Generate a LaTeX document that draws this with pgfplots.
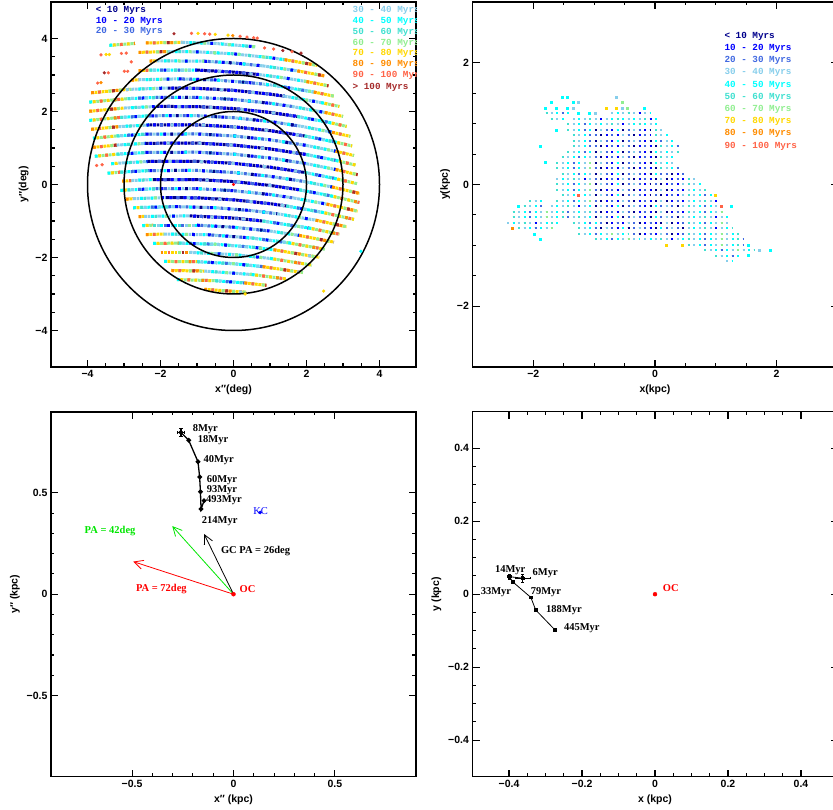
\documentclass[border=0pt]{standalone}
\usepackage{pgfplots}
\pgfplotsset{compat=1.18}
\usepackage{fontspec}
\setmainfont{Liberation Serif}
\newfontfamily\lsans{Liberation Sans}
\newfontfamily\lmono{Liberation Mono}
\usetikzlibrary{arrows.meta}

\definecolor{cNavy}{HTML}{00008B}
\definecolor{cBlue}{HTML}{0000FF}
\definecolor{cRoyal}{HTML}{4169E1}
\definecolor{cSky}{HTML}{87CEEB}
\definecolor{cCyan}{HTML}{00FFFF}
\definecolor{cTurq}{HTML}{40E0D0}
\definecolor{cGreen}{HTML}{90EE90}
\definecolor{cGold}{HTML}{FFD700}
\definecolor{cOrange}{HTML}{FF8C00}
\definecolor{cTomato}{HTML}{FF6347}
\definecolor{cBrown}{HTML}{A52A2A}
\definecolor{cArrG}{HTML}{00E600}

\newcommand{\lgd}{\lmono\bfseries\fontsize{9.3}{10}\selectfont}
\newcommand{\ann}{\fontsize{10.5}{12}\selectfont}

% rows of dots: a dashed path, other colours put on every n-th dot
\tikzset{
  d1/.style={line width=3pt, dash pattern=on 2.8pt off 0.7pt},
  o1/.style n args={3}{postaction={draw=#1, line width=3pt, dash pattern=on 2.8pt off #2, dash phase=#3}},
  CA/.style={color=cNavy, d1, o1={cBlue}{4.2pt}{3.5pt}, o1={cRoyal}{14.7pt}{7pt}, o1={cSky}{28.7pt}{10.5pt}},
  CB/.style={color=cSky, d1, o1={cRoyal}{4.2pt}{3.5pt}, o1={cBlue}{14.7pt}{0pt}, o1={cCyan}{21.7pt}{10.5pt}, o1={cNavy}{35.7pt}{14pt}},
  MA/.style={color=cSky, d1, o1={cCyan}{7.7pt}{3.5pt}, o1={cTurq}{14.7pt}{7pt}, o1={cGreen}{21.7pt}{3.5pt}, o1={cBlue}{35.7pt}{10.5pt}},
  MB/.style={color=cCyan, d1, o1={cSky}{4.2pt}{3.5pt}, o1={cRoyal}{14.7pt}{7pt}, o1={cTurq}{21.7pt}{0pt}, o1={cBlue}{28.7pt}{17.5pt}, o1={cGreen}{42.7pt}{10.5pt}},
  WA/.style={color=cGold, d1, o1={cGreen}{7.7pt}{3.5pt}, o1={cTomato}{11.2pt}{7pt}, o1={cOrange}{21.7pt}{0pt}, o1={cBrown}{35.7pt}{17.5pt}, o1={cSky}{42.7pt}{10.5pt}},
  WB/.style={color=cGreen, d1, o1={cGold}{4.2pt}{3.5pt}, o1={cTomato}{14.7pt}{7pt}, o1={cCyan}{21.7pt}{0pt}, o1={cOrange}{35.7pt}{14pt}},
  d2/.style={line width=2pt, dash pattern=on 2pt off 3.475pt},
  o2/.style n args={3}{postaction={draw=#1, line width=2pt, dash pattern=on 2pt off #2, dash phase=#3}},
  Q1/.style={color=cBlue, d2, o2={cNavy}{8.95pt}{5.475pt}, o2={cRoyal}{14.425pt}{0pt}, o2={cSky}{36.325pt}{10.95pt}},
  Q2/.style={color=cRoyal, d2, o2={cBlue}{8.95pt}{5.475pt}, o2={cSky}{14.425pt}{10.95pt}, o2={cNavy}{25.375pt}{0pt}, o2={cCyan}{36.325pt}{16.425pt}},
  Q3/.style={color=cCyan, d2, o2={cSky}{8.95pt}{5.475pt}, o2={cTurq}{14.425pt}{0pt}, o2={cRoyal}{36.325pt}{21.9pt}, o2={cGreen}{58.225pt}{27.375pt}},
  Q4/.style={color=cSky, d2, o2={cCyan}{8.95pt}{5.475pt}, o2={cTurq}{25.375pt}{10.95pt}, o2={cBlue}{47.275pt}{21.9pt}},
  arr/.style={line width=0.8pt, -{Straight Barb[length=9pt,width=9pt]}},
}

\pgfplotsset{
  panel/.style={
    scale only axis, width=365pt, height=365pt, anchor=south west,
    axis line style={line width=1.6pt},
    tick align=inside, major tick length=7pt, minor tick length=3.5pt,
    tick style={line width=1.1pt, black},
    ticklabel style={font=\lsans\bfseries\fontsize{10.5}{12}\selectfont},
    label style={font=\lsans\bfseries\fontsize{10.5}{12}\selectfont},
  },
}

\begin{document}
\begin{tikzpicture}

% ---------------- top left: x'' y'' in deg
\begin{axis}[panel, at={(51pt,442pt)},
  xmin=-5, xmax=5, ymin=-5, ymax=5,
  xtick={-4,-2,0,2,4}, xticklabels={−4,−2,0,2,4},
  ytick={-4,-2,0,2,4}, yticklabels={−4,−2,0,2,4},
  minor x tick num=3, minor y tick num=3,
  xlabel={x″(deg)}, ylabel={y″(deg)}]
\addplot[WB] coordinates {(-3.4,3.813) (-2.7,3.864)};
\addplot[WA] coordinates {(-2.4,3.878) (-1.4,3.893)};
\addplot[MA] coordinates {(-1.4,3.893) (-0.5,3.864) (0.6,3.773)};
\addplot[WA] coordinates {(-2.6,3.619) (-1.8,3.643)};
\addplot[MA] coordinates {(-1.8,3.643) (-1.0,3.635) (0,3.58) (1.0,3.475) (1.4,3.419)};
\addplot[WA] coordinates {(1.4,3.419) (2.3,3.264)};
\addplot[WA] coordinates {(-2.3,3.382) (-2.1,3.388)};
\addplot[MA] coordinates {(-2.1,3.388) (-0.8,3.378)};
\addplot[CB] coordinates {(-0.8,3.378) (0,3.33) (0.8,3.25)};
\addplot[MA] coordinates {(0.8,3.25) (1.75,3.113)};
\addplot[WA] coordinates {(1.75,3.113) (2.5,2.974)};
\addplot[WA] coordinates {(-2.6,3.119) (-2.3,3.132)};
\addplot[MB] coordinates {(-2.3,3.132) (-1.0,3.135)};
\addplot[CA] coordinates {(-1.0,3.135) (0,3.08) (0.7,3.012)};
\addplot[MA] coordinates {(0.7,3.012) (1.4,2.919) (2.0,2.82)};
\addplot[WA] coordinates {(2.0,2.82) (2.6,2.703)};
\addplot[WA] coordinates {(-2.8,2.858) (-2.6,2.869)};
\addplot[MA] coordinates {(-2.6,2.869) (-1.5,2.894)};
\addplot[CB] coordinates {(-1.5,2.894) (-0.5,2.864) (0.5,2.784) (1.1,2.718)};
\addplot[MB] coordinates {(1.1,2.718) (2.2,2.533)};
\addplot[WA] coordinates {(2.2,2.533) (2.75,2.421)};
\addplot[WA] coordinates {(-3.9,2.512) (-3.0,2.595) (-2.8,2.608)};
\addplot[MA] coordinates {(-2.8,2.608) (-1.8,2.643)};
\addplot[CA] coordinates {(-1.8,2.643) (-1.0,2.635) (0,2.58) (1.0,2.475) (1.4,2.419)};
\addplot[MA] coordinates {(1.4,2.419) (2.4,2.244)};
\addplot[WB] coordinates {(2.4,2.244) (2.9,2.138)};
\addplot[WB] coordinates {(-3.95,2.256) (-2.9,2.352)};
\addplot[MB] coordinates {(-2.9,2.352) (-2.0,2.39)};
\addplot[CB] coordinates {(-2.0,2.39) (-1.0,2.385) (0,2.33) (1.0,2.225) (1.6,2.138)};
\addplot[MA] coordinates {(1.6,2.138) (2.5,1.974)};
\addplot[WA] coordinates {(2.5,1.974) (3.0,1.865)};
\addplot[WA] coordinates {(-3.95,2.006) (-3.0,2.095)};
\addplot[MA] coordinates {(-3.0,2.095) (-2.1,2.138)};
\addplot[CA] coordinates {(-2.1,2.138) (-1.0,2.135) (0,2.08) (1.0,1.975) (1.75,1.863)};
\addplot[MB] coordinates {(1.75,1.863) (2.6,1.703)};
\addplot[WB] coordinates {(2.6,1.703) (3.1,1.592)};
\addplot[WB] coordinates {(-3.95,1.756) (-3.1,1.838)};
\addplot[MB] coordinates {(-3.1,1.838) (-2.25,1.883)};
\addplot[CB] coordinates {(-2.25,1.883) (-1.0,1.885) (0,1.83) (1.0,1.725) (1.85,1.596)};
\addplot[MA] coordinates {(1.85,1.596) (2.7,1.432)};
\addplot[WA] coordinates {(2.7,1.432) (3.2,1.318)};
\addplot[WA] coordinates {(-3.9,1.512) (-3.15,1.584)};
\addplot[MA] coordinates {(-3.15,1.584) (-2.3,1.632)};
\addplot[CA] coordinates {(-2.3,1.632) (-1.0,1.635) (0,1.58) (1.0,1.475) (1.95,1.329)};
\addplot[MB] coordinates {(1.95,1.329) (2.75,1.171)};
\addplot[WB] coordinates {(2.75,1.171) (3.25,1.056)};
\addplot[WB] coordinates {(-3.85,1.267) (-3.2,1.33)};
\addplot[MB] coordinates {(-3.2,1.33) (-2.4,1.378)};
\addplot[CB] coordinates {(-2.4,1.378) (-1.0,1.385) (0,1.33) (1.0,1.225) (2.0,1.07)};
\addplot[MA] coordinates {(2.0,1.07) (2.8,0.91)};
\addplot[WA] coordinates {(2.8,0.91) (3.3,0.794)};
\addplot[WA] coordinates {(-3.85,1.017) (-3.2,1.08)};
\addplot[MA] coordinates {(-3.2,1.08) (-2.4,1.128)};
\addplot[CA] coordinates {(-2.4,1.128) (-1.0,1.135) (0,1.08) (1.0,0.975) (2.0,0.82)};
\addplot[MB] coordinates {(2.0,0.82) (2.8,0.66)};
\addplot[WB] coordinates {(2.8,0.66) (3.35,0.531)};
\addplot[WB] coordinates {(-3.8,0.773) (-3.2,0.83)};
\addplot[MB] coordinates {(-3.2,0.83) (-2.4,0.878)};
\addplot[CB] coordinates {(-2.4,0.878) (-1.0,0.885) (0,0.83) (1.0,0.725) (2.0,0.57)};
\addplot[MA] coordinates {(2.0,0.57) (2.8,0.41)};
\addplot[WA] coordinates {(2.8,0.41) (3.4,0.269)};
\addplot[WB] coordinates {(-3.35,0.567) (-3.15,0.584)};
\addplot[MA] coordinates {(-3.15,0.584) (-2.35,0.63)};
\addplot[CA] coordinates {(-2.35,0.63) (-1.0,0.635) (0,0.58) (1.0,0.475) (1.95,0.329)};
\addplot[MB] coordinates {(1.95,0.329) (2.75,0.171)};
\addplot[WB] coordinates {(2.75,0.171) (3.4,0.019)};
\addplot[WB] coordinates {(-3.45,0.308) (-3.1,0.338)};
\addplot[MB] coordinates {(-3.1,0.338) (-2.3,0.382)};
\addplot[CB] coordinates {(-2.3,0.382) (-1.0,0.385) (0,0.33) (1.0,0.225) (1.9,0.088)};
\addplot[MA] coordinates {(1.9,0.088) (2.7,-0.068)};
\addplot[WA] coordinates {(2.7,-0.068) (3.45,-0.244)};
\addplot[WA] coordinates {(-3.05,0.091) (-2.8,0.108)};
\addplot[MA] coordinates {(-2.8,0.108) (-2.2,0.135)};
\addplot[CA] coordinates {(-2.2,0.135) (-1.0,0.135) (0,0.08) (1.0,-0.025) (1.8,-0.145)};
\addplot[MB] coordinates {(1.8,-0.145) (2.65,-0.308)};
\addplot[WB] coordinates {(2.65,-0.308) (3.45,-0.494)};
\addplot[WB] coordinates {(-3.1,-0.162) (-2.9,-0.148)};
\addplot[MB] coordinates {(-2.9,-0.148) (-2.0,-0.11)};
\addplot[CB] coordinates {(-2.0,-0.11) (-1.0,-0.115) (0,-0.17) (1.0,-0.275) (1.65,-0.37)};
\addplot[MA] coordinates {(1.65,-0.37) (2.55,-0.537)};
\addplot[WA] coordinates {(2.55,-0.537) (3.4,-0.731)};
\addplot[WA] coordinates {(-2.95,-0.402) (-2.75,-0.389)};
\addplot[MA] coordinates {(-2.75,-0.389) (-1.85,-0.358)};
\addplot[CA] coordinates {(-1.85,-0.358) (-1.0,-0.365) (0,-0.42) (1.0,-0.525) (1.45,-0.589)};
\addplot[MB] coordinates {(1.45,-0.589) (2.4,-0.756)};
\addplot[WB] coordinates {(2.4,-0.756) (3.3,-0.956)};
\addplot[WB] coordinates {(-2.75,-0.639) (-2.55,-0.629)};
\addplot[MB] coordinates {(-2.55,-0.629) (-1.6,-0.606)};
\addplot[CB] coordinates {(-1.6,-0.606) (-0.5,-0.636) (0.5,-0.716) (1.2,-0.802)};
\addplot[MA] coordinates {(1.2,-0.802) (2.25,-0.977)};
\addplot[WA] coordinates {(2.25,-0.977) (3.1,-1.158)};
\addplot[WA] coordinates {(-2.6,-0.881) (-2.45,-0.874)};
\addplot[MA] coordinates {(-2.45,-0.874) (-1.2,-0.86)};
\addplot[CA] coordinates {(-1.2,-0.86) (0,-0.92) (0.8,-1.0)};
\addplot[MB] coordinates {(0.8,-1.0) (2.05,-1.189)};
\addplot[WB] coordinates {(2.05,-1.189) (2.9,-1.362)};
\addplot[WB] coordinates {(-2.5,-1.126) (-2.2,-1.115)};
\addplot[MB] coordinates {(-2.2,-1.115) (-1.0,-1.115)};
\addplot[CB] coordinates {(-1.0,-1.115) (0,-1.17) (1.0,-1.275)};
\addplot[MA] coordinates {(1.0,-1.275) (1.8,-1.395)};
\addplot[WA] coordinates {(1.8,-1.395) (2.75,-1.579)};
\addplot[WA] coordinates {(-2.4,-1.372) (-1.9,-1.358)};
\addplot[MA] coordinates {(-1.9,-1.358) (-0.7,-1.376)};
\addplot[CB] coordinates {(-0.7,-1.376) (0.5,-1.466)};
\addplot[MB] coordinates {(0.5,-1.466) (1.5,-1.596)};
\addplot[WB] coordinates {(1.5,-1.596) (2.5,-1.776)};
\addplot[WB] coordinates {(-2.2,-1.615) (-1.5,-1.606)};
\addplot[MB] coordinates {(-1.5,-1.606) (-0.5,-1.636) (0.5,-1.716) (1.1,-1.788)};
\addplot[WA] coordinates {(1.1,-1.788) (2.35,-1.996)};
\addplot[WA] coordinates {(-2.0,-1.86) (-1.2,-1.86)};
\addplot[MA] coordinates {(-1.2,-1.86) (0,-1.92) (1.0,-2.025)};
\addplot[WB] coordinates {(1.0,-2.025) (2.15,-2.208)};
\addplot[WB] coordinates {(-1.9,-2.108) (-1.0,-2.115)};
\addplot[MB] coordinates {(-1.0,-2.115) (0,-2.17) (0.8,-2.25)};
\addplot[WA] coordinates {(0.8,-2.25) (1.9,-2.412)};
\addplot[WA] coordinates {(-1.7,-2.356) (-0.8,-2.372)};
\addplot[MA] coordinates {(-0.8,-2.372) (0.5,-2.466)};
\addplot[WB] coordinates {(0.5,-2.466) (1.45,-2.589)};
\addplot[WB] coordinates {(-1.55,-2.606) (-0.5,-2.636)};
\addplot[MB] coordinates {(-0.5,-2.636) (0.3,-2.696)};
\addplot[WA] coordinates {(0.3,-2.696) (0.9,-2.762)};
\addplot[WA] coordinates {(-0.8,-2.872) (0.35,-2.951)};
% scattered single points
\addplot[cTomato, only marks, mark=*, mark size=1.45pt] coordinates {(0.85,3.74) (1.1,3.71) (1.6,3.64) (-1.15,4.14) (-0.79,4.13) (-0.65,4.12) (0.18,4.06) (0.37,4.04) (0.55,4.02) (0.65,4.01) (-3.63,3.55) (-3.07,3.59) (-2.94,3.6) (-2.8,3.36) (-3.43,3.06) (-2.99,3.1) (-2.9,3.1) (-3.72,2.78) (-3.75,0.52) (-3.6,0.54)};
\addplot[cBrown, only marks, mark=*, mark size=1.45pt] coordinates {(1.35,3.67) (1.85,3.6) (-1.63,4.13) (-3.54,3.06)};
\addplot[cGold, only marks, mark=*, mark size=1.45pt] coordinates {(-0.97,4.14) (-0.5,4.11) (-0.15,4.09) (-3.49,3.56) (-3.4,3.56) (2.47,-2.92) (0.32,-3.0)};
\addplot[cOrange, only marks, mark=*, mark size=1.45pt] coordinates {(-0.02,4.08) (-3.63,2.79)};
\addplot[cCyan, only marks, mark=*, mark size=1.45pt] coordinates {(3.49,-1.83)};
\addplot[red, only marks, mark=*, mark size=1.45pt] coordinates {(0,0)};
\draw[line width=1.5pt] (axis cs:0,0) circle[radius=2];
\draw[line width=1.5pt] (axis cs:0,0) circle[radius=3];
\draw[line width=1.5pt] (axis cs:0,0) circle[radius=4];
\node[anchor=west, font=\lgd, text=cNavy] at (axis cs:-3.87,4.77) {< 10 Myrs};
\node[anchor=west, font=\lgd, text=cBlue] at (axis cs:-3.87,4.48) {10 - 20 Myrs};
\node[anchor=west, font=\lgd, text=cRoyal] at (axis cs:-3.87,4.19) {20 - 30 Myrs};
\node[anchor=west, font=\lgd, text=cSky] at (axis cs:3.17,4.77) {30 - 40 Myrs};
\node[anchor=west, font=\lgd, text=cCyan] at (axis cs:3.17,4.47) {40 - 50 Myrs};
\node[anchor=west, font=\lgd, text=cTurq] at (axis cs:3.17,4.18) {50 - 60 Myrs};
\node[anchor=west, font=\lgd, text=cGreen] at (axis cs:3.17,3.88) {60 - 70 Myrs};
\node[anchor=west, font=\lgd, text=cGold] at (axis cs:3.17,3.59) {70 - 80 Myrs};
\node[anchor=west, font=\lgd, text=cOrange] at (axis cs:3.17,3.29) {80 - 90 Myrs};
\node[anchor=west, font=\lgd, text=cTomato] at (axis cs:3.17,2.99) {90 - 100 Myrs};
\node[anchor=west, font=\lgd, text=cBrown] at (axis cs:3.17,2.67) {> 100 Myrs};
\end{axis}

% ---------------- top right: x y in kpc
\begin{axis}[panel, at={(472.5pt,442pt)},
  xmin=-3, xmax=3, ymin=-3, ymax=3,
  xtick={-2,0,2}, xticklabels={−2,0,2},
  ytick={-2,0,2}, yticklabels={−2,0,2},
  minor x tick num=3, minor y tick num=3,
  xlabel={x(kpc)}, ylabel={y(kpc)}]
\addplot[Q3] coordinates {(-1.80,1.17) (-1.41,1.17)};
\addplot[Q4] coordinates {(-0.72,1.17) (-0.06,1.17)};
\addplot[Q3] coordinates {(-1.71,1.08) (-1.50,1.08)};
\addplot[Q4] coordinates {(-1.35,1.08) (0.03,1.08)};
\addplot[Q3] coordinates {(-1.44,0.99) (-1.05,0.99)};
\addplot[Q4] coordinates {(-0.99,0.99) (0.03,0.99)};
\addplot[Q3] coordinates {(-1.44,0.90) (-1.05,0.90)};
\addplot[Q2] coordinates {(-0.99,0.90) (-0.06,0.90)};
\addplot[Q3] coordinates {(0,0.90) (0.12,0.90)};
\addplot[Q3] coordinates {(-1.35,0.81) (-1.05,0.81)};
\addplot[Q1] coordinates {(-0.99,0.81) (-0.06,0.81)};
\addplot[Q3] coordinates {(0,0.81) (0.21,0.81)};
\addplot[Q3] coordinates {(-1.35,0.72) (-1.05,0.72)};
\addplot[Q2] coordinates {(-0.99,0.72) (0.12,0.72)};
\addplot[Q4] coordinates {(0.18,0.72) (0.30,0.72)};
\addplot[Q3] coordinates {(-1.35,0.63) (-1.05,0.63)};
\addplot[Q1] coordinates {(-0.99,0.63) (0.03,0.63)};
\addplot[Q3] coordinates {(0.09,0.63) (0.39,0.63)};
\addplot[Q3] coordinates {(-1.44,0.54) (-1.05,0.54)};
\addplot[Q2] coordinates {(-0.99,0.54) (0.03,0.54)};
\addplot[Q4] coordinates {(0.09,0.54) (0.39,0.54)};
\addplot[Q3] coordinates {(-1.53,0.45) (-1.05,0.45)};
\addplot[Q1] coordinates {(-0.99,0.45) (0.03,0.45)};
\addplot[Q3] coordinates {(0.09,0.45) (0.30,0.45)};
\addplot[Q3] coordinates {(-1.62,0.36) (-1.05,0.36)};
\addplot[Q2] coordinates {(-0.99,0.36) (0.03,0.36)};
\addplot[Q4] coordinates {(0.09,0.36) (0.30,0.36)};
\addplot[Q3] coordinates {(-1.62,0.27) (-1.05,0.27)};
\addplot[Q1] coordinates {(-0.99,0.27) (0.03,0.27)};
\addplot[Q3] coordinates {(0.09,0.27) (0.39,0.27)};
\addplot[Q3] coordinates {(-1.53,0.18) (-1.05,0.18)};
\addplot[Q2] coordinates {(-0.99,0.18) (0.12,0.18)};
\addplot[Q1] coordinates {(0.18,0.18) (0.48,0.18)};
\addplot[Q4] coordinates {(-1.62,0.09) (-1.05,0.09)};
\addplot[Q1] coordinates {(-0.99,0.09) (0.48,0.09)};
\addplot[Q3] coordinates {(0.54,0.09) (0.66,0.09)};
\addplot[Q3] coordinates {(-1.62,0) (-1.05,0)};
\addplot[Q2] coordinates {(-0.99,0) (-0.06,0)};
\addplot[Q1] coordinates {(0,0) (0.48,0)};
\addplot[Q3] coordinates {(0.54,0) (0.75,0)};
\addplot[Q3] coordinates {(-1.62,-0.09) (-1.05,-0.09)};
\addplot[Q1] coordinates {(-0.99,-0.09) (0.48,-0.09)};
\addplot[Q4] coordinates {(0.54,-0.09) (0.84,-0.09)};
\addplot[Q3] coordinates {(-1.53,-0.18) (-1.05,-0.18)};
\addplot[Q2] coordinates {(-0.99,-0.18) (-0.06,-0.18)};
\addplot[Q1] coordinates {(0,-0.18) (0.48,-0.18)};
\addplot[Q3] coordinates {(0.54,-0.18) (0.93,-0.18)};
\addplot[Q3] coordinates {(-2.07,-0.27) (-1.86,-0.27)};
\addplot[Q3] coordinates {(-1.62,-0.27) (-1.05,-0.27)};
\addplot[Q1] coordinates {(-0.99,-0.27) (0.48,-0.27)};
\addplot[Q4] coordinates {(0.54,-0.27) (1.02,-0.27)};
\addplot[Q3] coordinates {(-2.16,-0.36) (-1.86,-0.36)};
\addplot[Q4] coordinates {(-1.71,-0.36) (-1.05,-0.36)};
\addplot[Q2] coordinates {(-0.99,-0.36) (0.48,-0.36)};
\addplot[Q3] coordinates {(0.54,-0.36) (1.11,-0.36)};
\addplot[Q3] coordinates {(-2.34,-0.45) (-1.41,-0.45)};
\addplot[Q4] coordinates {(-1.35,-0.45) (-1.05,-0.45)};
\addplot[Q1] coordinates {(-0.99,-0.45) (0.48,-0.45)};
\addplot[Q3] coordinates {(0.54,-0.45) (1.11,-0.45)};
\addplot[Q3] coordinates {(-2.34,-0.54) (-1.05,-0.54)};
\addplot[Q2] coordinates {(-0.99,-0.54) (0.48,-0.54)};
\addplot[Q4] coordinates {(0.54,-0.54) (1.20,-0.54)};
\addplot[Q4] coordinates {(-2.43,-0.63) (-1.59,-0.63)};
\addplot[Q3] coordinates {(-1.35,-0.63) (-0.96,-0.63)};
\addplot[Q1] coordinates {(-0.90,-0.63) (0.48,-0.63)};
\addplot[Q3] coordinates {(0.54,-0.63) (1.20,-0.63)};
\addplot[Q3] coordinates {(-2.25,-0.72) (-1.68,-0.72)};
\addplot[Q3] coordinates {(-1.26,-0.72) (-0.96,-0.72)};
\addplot[Q2] coordinates {(-0.90,-0.72) (0.48,-0.72)};
\addplot[Q4] coordinates {(0.54,-0.72) (1.29,-0.72)};
\addplot[Q3] coordinates {(-1.26,-0.81) (-0.42,-0.81)};
\addplot[Q1] coordinates {(-0.36,-0.81) (0.48,-0.81)};
\addplot[Q3] coordinates {(0.54,-0.81) (1.38,-0.81)};
\addplot[Q3] coordinates {(-0.99,-0.90) (-0.24,-0.90)};
\addplot[Q4] coordinates {(-0.18,-0.90) (0.48,-0.90)};
\addplot[Q3] coordinates {(0.54,-0.90) (1.47,-0.90)};
\addplot[Q3] coordinates {(0.54,-0.99) (1.47,-0.99)};
\addplot[Q3] coordinates {(0.81,-1.08) (1.65,-1.08)};
\addplot[Q3] coordinates {(0.99,-1.17) (1.38,-1.17)};
\addplot[Q4] coordinates {(1.17,-1.26) (1.29,-1.26)};
\addplot[cCyan, only marks, mark=square*, mark size=1pt] coordinates {(-1.53,1.44) (-1.44,1.44) (-1.71,1.35) (-1.35,1.35) (-1.80,1.26) (-1.62,1.26) (-1.44,1.26) (-0.18,1.26) (-1.26,1.17) (-1.08,1.17) (-1.62,0.90) (-1.89,0.63) (-1.80,0.36) (1.26,-0.36) (-1.98,-0.81) (-1.89,-0.90) (1.53,-0.99) (1.89,-1.08) (1.53,-1.17) (-2.25,-0.36)};
\addplot[cSky, only marks, mark=square*, mark size=1pt] coordinates {(-0.63,1.44) (-1.26,1.35) (-1.35,1.26) (-0.54,1.26) (-0.99,1.17) (1.71,-1.08)};
\addplot[cGreen, only marks, mark=square*, mark size=1pt] coordinates {(-0.54,1.35) (-0.45,1.26)};
\addplot[cGold, only marks, mark=square*, mark size=1pt] coordinates {(-0.81,1.26) (-0.63,1.26) (0.99,-0.18) (0.18,-0.99) (0.45,-0.99)};
\addplot[cOrange, only marks, mark=square*, mark size=1pt] coordinates {(-2.34,-0.72)};
\addplot[cTomato, only marks, mark=square*, mark size=1pt] coordinates {(1.08,-0.36) (-1.26,-0.18)};
\node[anchor=west, font=\lgd, text=cNavy] at (axis cs:1.085,2.44) {< 10 Myrs};
\node[anchor=west, font=\lgd, text=cBlue] at (axis cs:1.085,2.24) {10 - 20 Myrs};
\node[anchor=west, font=\lgd, text=cRoyal] at (axis cs:1.085,2.04) {20 - 30 Myrs};
\node[anchor=west, font=\lgd, text=cSky] at (axis cs:1.085,1.84) {30 - 40 Myrs};
\node[anchor=west, font=\lgd, text=cCyan] at (axis cs:1.085,1.63) {40 - 50 Myrs};
\node[anchor=west, font=\lgd, text=cTurq] at (axis cs:1.085,1.43) {50 - 60 Myrs};
\node[anchor=west, font=\lgd, text=cGreen] at (axis cs:1.085,1.24) {60 - 70 Myrs};
\node[anchor=west, font=\lgd, text=cGold] at (axis cs:1.085,1.03) {70 - 80 Myrs};
\node[anchor=west, font=\lgd, text=cOrange] at (axis cs:1.085,0.84) {80 - 90 Myrs};
\node[anchor=west, font=\lgd, text=cTomato] at (axis cs:1.085,0.63) {90 - 100 Myrs};
\end{axis}

% ---------------- bottom left: x'' y'' in kpc
\begin{axis}[panel, at={(51pt,32.3pt)},
  xmin=-0.9, xmax=0.9, ymin=-0.9, ymax=0.9,
  xtick={-0.5,0,0.5}, xticklabels={−0.5,0,0.5},
  ytick={-0.5,0,0.5}, yticklabels={−0.5,0,0.5},
  minor x tick num=4, minor y tick num=4,
  xlabel={x″ (kpc)}, ylabel={y″ (kpc)}]
\addplot[red, arr] coordinates {(0,0) (-0.4946,0.1607)};
\addplot[cArrG, arr] coordinates {(0,0) (-0.302,0.336)};
\addplot[black, arr] coordinates {(0,0) (-0.145,0.297)};
\addplot[black, line width=1.3pt, mark=*, mark size=1.7pt] coordinates {(-0.259,0.798) (-0.221,0.759) (-0.175,0.653) (-0.167,0.578) (-0.163,0.505) (-0.160,0.420) (-0.145,0.461)};
\addplot[black, only marks, mark=*, mark size=1.7pt,
  error bars/.cd, x dir=both, x explicit, y dir=both, y explicit,
  error bar style={line width=1.2pt}] coordinates {(-0.259,0.798) +- (0.017,0.02)};
\addplot[blue, only marks, mark=*, mark size=1.5pt] coordinates {(0.132,0.403)};
\addplot[red, only marks, mark=*, mark size=2pt] coordinates {(0,0)};
\node[anchor=west, font=\ann\bfseries] at (axis cs:-0.218,0.812) {8Myr};
\node[anchor=west, font=\ann\bfseries] at (axis cs:-0.193,0.762) {18Myr};
\node[anchor=west, font=\ann\bfseries] at (axis cs:-0.165,0.662) {40Myr};
\node[anchor=west, font=\ann\bfseries] at (axis cs:-0.149,0.563) {60Myr};
\node[anchor=west, font=\ann\bfseries] at (axis cs:-0.149,0.514) {93Myr};
\node[anchor=west, font=\ann\bfseries] at (axis cs:-0.152,0.464) {493Myr};
\node[anchor=west, font=\ann\bfseries] at (axis cs:-0.173,0.362) {214Myr};
\node[anchor=west, font=\ann\bfseries] at (axis cs:-0.079,0.211) {GC PA = 26deg};
\node[anchor=west, font=\ann\bfseries, text=cArrG] at (axis cs:-0.751,0.311) {PA = 42deg};
\node[anchor=west, font=\ann\bfseries, text=red] at (axis cs:-0.498,0.026) {PA = 72deg};
\node[anchor=west, font=\ann\bfseries, text=red] at (axis cs:0.013,0.025) {OC};
\node[font=\ann, text=blue] at (axis cs:0.134,0.412) {KC};
\end{axis}

% ---------------- bottom right: x y in kpc
\begin{axis}[panel, at={(472.5pt,32.3pt)},
  xmin=-0.5, xmax=0.5, ymin=-0.5, ymax=0.5,
  xtick={-0.4,-0.2,0,0.2,0.4}, xticklabels={−0.4,−0.2,0,0.2,0.4},
  ytick={-0.4,-0.2,0,0.2,0.4}, yticklabels={−0.4,−0.2,0,0.2,0.4},
  minor x tick num=3, minor y tick num=3,
  xlabel={x (kpc)}, ylabel={y (kpc)}]
\addplot[black, line width=0.8pt, mark=square*, mark size=1.3pt] coordinates {(-0.363,0.044) (-0.399,0.048) (-0.390,0.034) (-0.340,-0.009) (-0.327,-0.043) (-0.274,-0.098)};
\addplot[black, only marks, mark=square*, mark size=1.3pt,
  error bars/.cd, x dir=both, x explicit, y dir=both, y explicit,
  error bar style={line width=0.9pt}] coordinates {(-0.363,0.044) +- (0.02,0.012) (-0.399,0.048) +- (0.006,0.006)};
\addplot[red, only marks, mark=*, mark size=2pt] coordinates {(0,0)};
\node[anchor=west, font=\ann\bfseries] at (axis cs:-0.448,0.067) {14Myr};
\node[anchor=west, font=\ann\bfseries] at (axis cs:-0.345,0.057) {6Myr};
\node[anchor=west, font=\ann\bfseries] at (axis cs:-0.487,0.006) {33Myr};
\node[anchor=west, font=\ann\bfseries] at (axis cs:-0.350,0.006) {79Myr};
\node[anchor=west, font=\ann\bfseries] at (axis cs:-0.308,-0.043) {188Myr};
\node[anchor=west, font=\ann\bfseries] at (axis cs:-0.259,-0.093) {445Myr};
\node[anchor=west, font=\ann\bfseries, text=red] at (axis cs:0.012,0.016) {OC};
\end{axis}

\pgfresetboundingbox
\path[use as bounding box] (0,0) rectangle (833pt,809pt);
\end{tikzpicture}
\end{document}
